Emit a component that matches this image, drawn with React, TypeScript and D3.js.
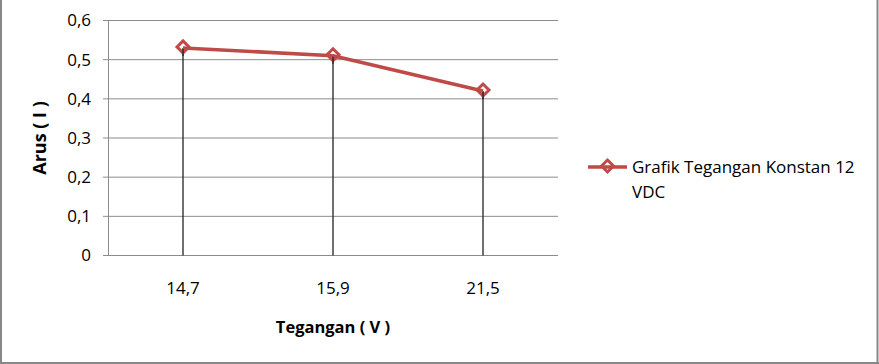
import React from "react";
import * as d3 from "d3";

const categories: string[] = ["14,7", "15,9", "21,5"];
const arusValues: number[] = [0.53, 0.51, 0.42];
const yTicks: number[] = [0, 0.1, 0.2, 0.3, 0.4, 0.5, 0.6];
const seriesName = "Grafik Tegangan Konstan 12";
const seriesName2 = "VDC";
const xTitle = "Tegangan ( V )";
const yTitle = "Arus ( I )";

const W = 879;
const H = 364;
const FONT = "'Open Sans', 'Liberation Sans', sans-serif";
const RED = "#BE4B48";

export default function App() {
  const x = d3.scaleBand<string>().domain(categories).range([108, 558]);
  const y = d3.scaleLinear().domain([0, 0.6]).range([255.5, 20.5]);
  const fmt = (v: number) => (v === 0 ? "0" : d3.format(".1f")(v).replace(".", ","));
  const cx = (c: string) => (x(c) as number) + x.bandwidth() / 2;
  const pts: [number, number][] = categories.map((c, i) => [cx(c), y(arusValues[i])]);
  const line = d3.line<[number, number]>()(pts) as string;
  const diamond = (px: number, py: number, r: number) =>
    `M${px},${py - r}L${px + r},${py}L${px},${py + r}L${px - r},${py}Z`;

  return (
    <svg
      width={W}
      height={H}
      style={{ position: "absolute", left: 0, top: 0, display: "block", background: "#fff" }}
    >
      <rect x={0} y={0} width={W} height={H} fill="#fff" />
      {/* outer frame */}
      <line x1={1} y1={0} x2={1} y2={H} stroke="#888" strokeWidth={2} />
      <line x1={W - 1.5} y1={0} x2={W - 1.5} y2={H} stroke="#888" strokeWidth={2} />
      <line x1={0} y1={H - 1} x2={W} y2={H - 1} stroke="#888" strokeWidth={2} />

      {/* gridlines */}
      {yTicks.map((t) => (
        <g key={t}>
          <line x1={103} x2={558} y1={y(t)} y2={y(t)} stroke="#8c8c8c" strokeWidth={1} />
          <text
            x={91}
            y={y(t)}
            dy="0.35em"
            textAnchor="end"
            fontFamily={FONT}
            fontSize={17}
            fill="#000"
          >
            {fmt(t)}
          </text>
        </g>
      ))}
      {/* y axis */}
      <line x1={108.5} x2={108.5} y1={y(0.6)} y2={y(0)} stroke="#8c8c8c" strokeWidth={1} />

      {/* drop lines */}
      {pts.map(([px, py], i) => (
        <line key={i} x1={px} x2={px} y1={py} y2={y(0)} stroke="#222" strokeWidth={1.3} />
      ))}

      {/* series line */}
      <path d={line} fill="none" stroke={RED} strokeWidth={3.5} strokeLinejoin="round" />
      {pts.map(([px, py], i) => (
        <path key={i} d={diamond(px, py - 1, 6)} fill="none" stroke={RED} strokeWidth={3} />
      ))}
      {pts.map(([px, py], i) => (
        <line key={"d" + i} x1={px} x2={px} y1={py + 1} y2={py + 8} stroke="#222" strokeWidth={1.3} />
      ))}

      {/* x tick labels */}
      {categories.map((c) => (
        <text
          key={c}
          x={cx(c)}
          y={294}
          textAnchor="middle"
          fontFamily={FONT}
          fontSize={17}
          fill="#000"
        >
          {c}
        </text>
      ))}

      {/* axis titles */}
      <text
        x={333}
        y={333}
        textAnchor="middle"
        fontFamily={FONT}
        fontSize={16.5}
        fontWeight="bold"
        fill="#000"
      >
        {xTitle}
      </text>
      <text
        transform={`translate(46,${y(0.3)}) rotate(-90)`}
        textAnchor="middle"
        fontFamily={FONT}
        fontSize={18}
        fontWeight="bold"
        fill="#000"
      >
        {yTitle}
      </text>

      {/* legend */}
      <line x1={588} x2={627} y1={167} y2={167} stroke={RED} strokeWidth={3.5} />
      <path d={diamond(607.5, 166, 6)} fill="none" stroke={RED} strokeWidth={3} />
      <text x={632} y={173} fontFamily={FONT} fontSize={17} fill="#000">
        {seriesName}
      </text>
      <text x={632} y={198} fontFamily={FONT} fontSize={17} fill="#000">
        {seriesName2}
      </text>
    </svg>
  );
}
